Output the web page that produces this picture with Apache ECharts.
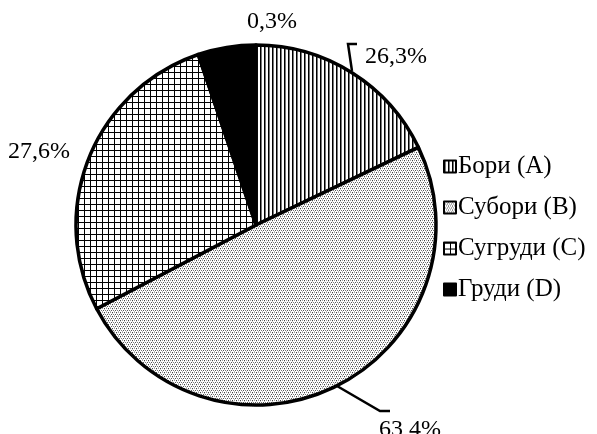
<!DOCTYPE html>
<html>
<head>
<meta charset="utf-8">
<script src="https://cdn.jsdelivr.net/npm/echarts@6/dist/echarts.min.js"></script>
<style>
html,body{margin:0;padding:0;background:#fff;}
#chart{width:597px;height:434px;}
</style>
</head>
<body>
<div id="chart"></div>
<script>
// Data (slice sizes as drawn; label texts as printed)
const categories = ['Бори (A)', 'Субори (B)', 'Сугруди (C)', 'Груди (D)'];
const sliceValues = [17.9, 49.4, 27.5, 5.2];
const labelTexts = ['26,3%', '63,4%', '27,6%', '0,3%'];

function makePattern(w, h, draw) {
  const c = document.createElement('canvas');
  c.width = w; c.height = h;
  const ctx = c.getContext('2d');
  ctx.fillStyle = '#fff';
  ctx.fillRect(0, 0, w, h);
  draw(ctx);
  return { image: c, repeat: 'repeat' };
}
const stripes = makePattern(4, 4, ctx => {
  ctx.fillStyle = '#000'; ctx.fillRect(0, 0, 1, 4);
  ctx.fillStyle = '#777'; ctx.fillRect(1, 0, 1, 4);
});
const dots = makePattern(4, 4, ctx => {
  const px = [[0,0,'#444'],[2,0,'#999'],[1,2,'#777'],[3,2,'#555'],[2,3,'#bbb'],[0,1,'#ccc']];
  px.forEach(p => { ctx.fillStyle = p[2]; ctx.fillRect(p[0], p[1], 1, 1); });
});
const grid = makePattern(6, 6, ctx => {
  ctx.fillStyle = '#000';
  ctx.fillRect(0, 0, 6, 1);
  ctx.fillRect(0, 0, 1, 6);
});
const fills = [stripes, dots, grid, '#000'];

const labelPos = [
  { x: 396, y: 57, line: [[352, 71], [348, 44], [357, 44]] },
  { x: 410, y: 430, line: [[337, 386], [380, 411], [390, 411]] },
  { x: 39, y: 152, line: null },
  { x: 272, y: 22, line: null }
];

const chart = echarts.init(document.getElementById('chart'), null, { renderer: 'canvas' });
chart.setOption({
  animation: false,
  backgroundColor: '#fff',
  legend: {
    orient: 'vertical',
    left: 438,
    top: 149,
    itemWidth: 12,
    itemHeight: 12,
    itemGap: 16,
    icon: 'rect',
    itemStyle: { borderColor: '#000', borderWidth: 2 },
    textStyle: { fontFamily: 'Liberation Serif', fontSize: 25, color: '#000', padding: [0, 0, 0, -3] },
    data: categories
  },
  series: [{
    type: 'pie',
    center: [256, 225],
    radius: 180,
    startAngle: 90,
    clockwise: true,
    avoidLabelOverlap: false,
    itemStyle: { borderColor: '#000', borderWidth: 3.5 },
    label: {
      show: true,
      position: 'outside',
      fontFamily: 'Liberation Serif',
      fontSize: 24,
      color: '#000',
      formatter: p => labelTexts[p.dataIndex]
    },
    labelLine: { show: true, lineStyle: { color: '#000', width: 2.5 } },
    emphasis: { disabled: true },
    labelLayout: function (params) {
      const lp = labelPos[params.dataIndex];
      const r = { x: lp.x, y: lp.y, align: 'center', verticalAlign: 'middle' };
      if (lp.line) r.labelLinePoints = lp.line;
      return r;
    },
    data: categories.map((name, i) => ({
      name: name,
      value: sliceValues[i],
      itemStyle: { color: fills[i] },
      labelLine: { show: labelPos[i].line !== null }
    }))
  }]
});
</script>
</body>
</html>
